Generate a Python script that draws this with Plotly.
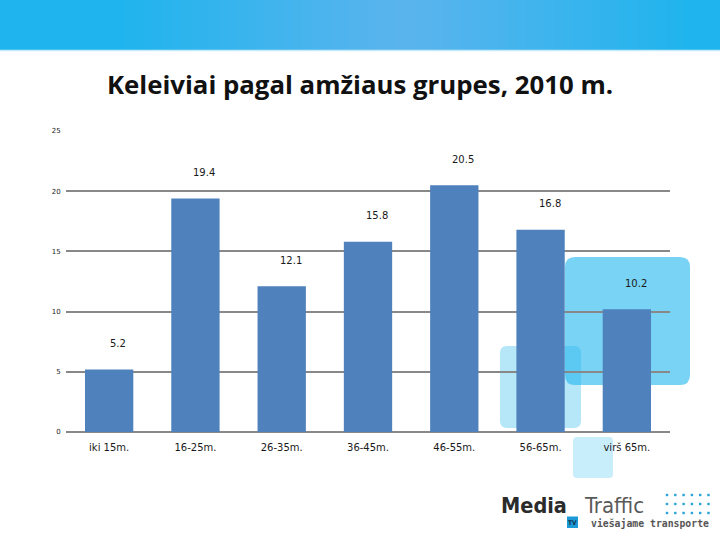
import plotly.graph_objects as go

# ---- data ----
categories = ["iki 15m.", "16-25m.", "26-35m.", "36-45m.", "46-55m.", "56-65m.", "virš 65m."]
values = [5.2, 19.4, 12.1, 15.8, 20.5, 16.8, 10.2]
value_labels = ["5.2", "19.4", "12.1", "15.8", "20.5", "16.8", "10.2"]
y_ticks = [0, 5, 10, 15, 20, 25]

title_text = "Keleiviai pagal amžiaus grupes, 2010 m."

W, H = 720, 540
L, R, T, B = 66, 670, 131, 432


def px(x):
    return (x - L) / (R - L)


def py(y):
    return (B - y) / (B - T)


def rrect(x0, y0, x1, y1, r):
    # rounded rectangle path in paper coords from pixel coords
    rx = r / (R - L)
    ry = r / (B - T)
    X0, X1 = px(x0), px(x1)
    Y0, Y1 = py(y0), py(y1)  # Y0 top (larger), Y1 bottom
    return (f"M {X0+rx},{Y0} L {X1-rx},{Y0} Q {X1},{Y0} {X1},{Y0-ry} "
            f"L {X1},{Y1+ry} Q {X1},{Y1} {X1-rx},{Y1} L {X0+rx},{Y1} "
            f"Q {X0},{Y1} {X0},{Y1+ry} L {X0},{Y0-ry} Q {X0},{Y0} {X0+rx},{Y0} Z")


fig = go.Figure()
fig.add_trace(go.Bar(
    x=categories, y=values,
    marker=dict(color="#4f81bd", line=dict(width=0)),
    hoverinfo="x+y",
))

shapes = []
# header band with soft central highlight
shapes.append(dict(type="rect", xref="paper", yref="paper",
                   x0=px(-5), x1=px(W + 5), y0=py(50), y1=py(-5),
                   fillcolor="#1fb4ed", line=dict(width=0), layer="below"))
n_layers = 30
for i in range(n_layers):
    w = 560 * (1 - i / n_layers)
    shapes.append(dict(type="rect", xref="paper", yref="paper",
                       x0=px(405 - w / 2), x1=px(405 + w / 2), y0=py(50), y1=py(-5),
                       fillcolor="white", opacity=0.0115, line=dict(width=0), layer="below"))
shapes.append(dict(type="line", xref="paper", yref="paper",
                   x0=px(-5), x1=px(W + 5), y0=py(50.5), y1=py(50.5),
                   line=dict(color="#c6eaf8", width=1.5), layer="below"))

# decorative rounded boxes
shapes.append(dict(type="path", xref="paper", yref="paper", path=rrect(565, 257, 690, 385, 10),
                   fillcolor="#1fb6ee", opacity=0.6, line=dict(width=0), layer="below"))
shapes.append(dict(type="path", xref="paper", yref="paper", path=rrect(500, 346, 581, 428, 7),
                   fillcolor="#1fb6ee", opacity=0.33, line=dict(width=0), layer="below"))
shapes.append(dict(type="path", xref="paper", yref="paper", path=rrect(573, 437, 613, 478, 4),
                   fillcolor="#1fb6ee", opacity=0.24, line=dict(width=0), layer="below"))

# logo TV box
shapes.append(dict(type="rect", xref="paper", yref="paper",
                   x0=px(567), x1=px(578), y0=py(528), y1=py(516.5),
                   fillcolor="#1d9ad6", line=dict(width=0), layer="above"))
# logo dot grid
for row in range(3):
    for col in range(6):
        cx = 667 + col * 8.3
        cy = 495 + row * 9
        shapes.append(dict(type="rect", xref="paper", yref="paper",
                           x0=px(cx - 1.2), x1=px(cx + 1.2), y0=py(cy + 1.2), y1=py(cy - 1.2),
                           fillcolor="#29a3da", line=dict(width=0), layer="above"))

annotations = []
for c, v, t in zip(categories, values, value_labels):
    annotations.append(dict(x=c, y=v, xref="x", yref="y", text=t, showarrow=False,
                            xshift=9, yshift=26, yanchor="middle",
                            font=dict(family="DejaVu Sans", size=10, color="#1a1a1a")))

annotations += [
    dict(x=px(499), y=py(505), xref="paper", yref="paper", text="<b>Media</b>", showarrow=False,
         xanchor="left", yanchor="middle",
         font=dict(family="DejaVu Sans Condensed", size=21.5, color="#2b2b2b")),
    dict(x=px(582), y=py(505), xref="paper", yref="paper", text="Traffic", showarrow=False,
         xanchor="left", yanchor="middle",
         font=dict(family="DejaVu Sans Condensed", size=22, color="#5a5a5a")),
    dict(x=px(572.5), y=py(522.5), xref="paper", yref="paper", text="<b>TV</b>", showarrow=False,
         xanchor="center", yanchor="middle",
         font=dict(family="DejaVu Sans Condensed", size=6.5, color="#12324f")),
    dict(x=px(589), y=py(523), xref="paper", yref="paper", text="<b>viešajame transporte</b>",
         showarrow=False, xanchor="left", yanchor="middle",
         font=dict(family="DejaVu Sans Mono", size=9.8, color="#555555")),
]

fig.update_layout(
    width=W, height=H,
    margin=dict(l=L, r=W - R, t=T, b=H - B, pad=0),
    paper_bgcolor="white",
    plot_bgcolor="rgba(0,0,0,0)",
    showlegend=False,
    bargap=0.44,
    title=dict(text="<b>" + title_text + "</b>", x=0.5, xref="container", xanchor="center",
               y=1 - 85 / H, yref="container", yanchor="middle",
               font=dict(family="Open Sans", size=25.8, color="#111111")),
    xaxis=dict(showgrid=False, zeroline=False, showline=False,
               ticks="outside", ticklen=6, tickcolor="rgba(0,0,0,0)",
               tickfont=dict(family="DejaVu Sans", size=10, color="#1a1a1a")),
    yaxis=dict(range=[0, 25], tickvals=y_ticks, showgrid=True, gridcolor="#888888", gridwidth=2,
               zeroline=True, zerolinecolor="#888888", zerolinewidth=2, showline=False,
               ticks="outside", ticklen=3, tickcolor="rgba(0,0,0,0)",
               tickfont=dict(family="DejaVu Sans", size=7, color="#1a1a1a")),
    shapes=shapes,
    annotations=annotations,
)

fig.write_html("out.html", config={"displayModeBar": False},
               post_script="document.body.style.margin='0';")
